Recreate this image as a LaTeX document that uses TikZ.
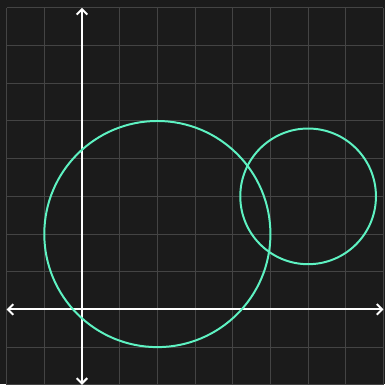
\documentclass[tikz,border=0pt]{standalone}
\usetikzlibrary{arrows.meta}
\definecolor{bg}{HTML}{1B1B1B}
\definecolor{gridc}{HTML}{444444}
\definecolor{circc}{HTML}{5EF2C2}
\begin{document}
\begin{tikzpicture}[x=1cm,y=1cm,
  gridline/.style={draw=gridc, line width=0.75pt},
  axis/.style={draw=white, line width=1.5pt, {Straight Barb[length=4pt,width=8pt]}-{Straight Barb[length=4pt,width=8pt]}},
  circ/.style={draw=circc, line width=1.5pt}]
\fill[bg] (-2.175,-1.98) rectangle (8.04,8.21);
\useasboundingbox (-2.175,-1.98) rectangle (8.04,8.21);
\draw[gridline] (-2,-2) grid (8,8);
\draw[axis] (-2,0) -- (8,0);
\draw[axis] (0,-2) -- (0,8);
\draw[circ] (2,2) circle (3);
\draw[circ] (6,3) circle (1.8);
\end{tikzpicture}
\end{document}
